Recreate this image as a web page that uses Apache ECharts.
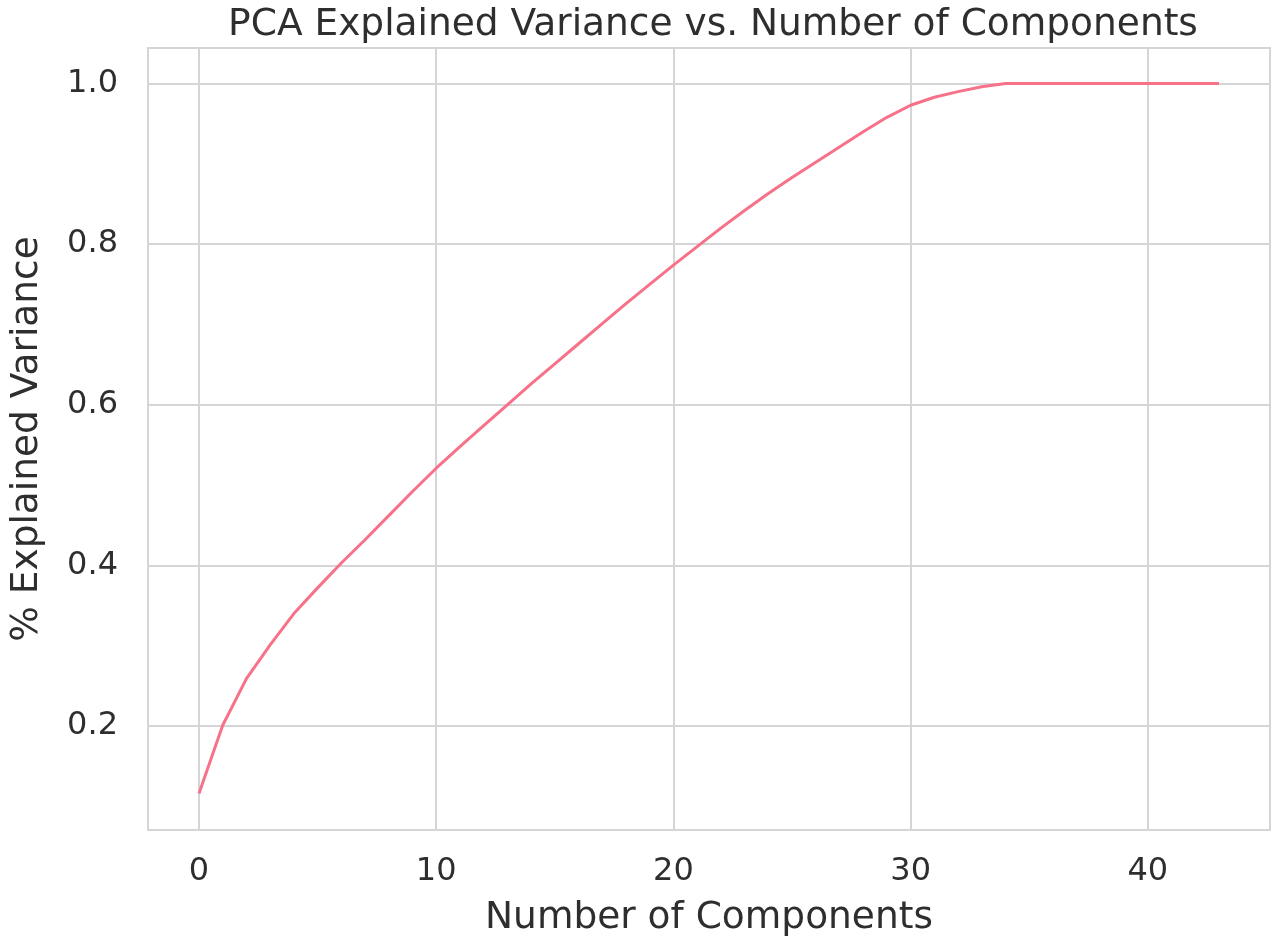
<!DOCTYPE html>
<html>
<head>
<meta charset="utf-8">
<script src="https://cdn.jsdelivr.net/npm/echarts@6/dist/echarts.min.js"></script>
<style>
html,body{margin:0;padding:0;background:#fff;}
#chart{width:1280px;height:950px;}
</style>
</head>
<body>
<div id="chart"></div>
<script>
const components = [0,1,2,3,4,5,6,7,8,9,10,11,12,13,14,15,16,17,18,19,20,21,22,23,24,25,26,27,28,29,30,31,32,33,34,35,36,37,38,39,40,41,42,43];
const explainedVariance = [0.116,0.201,0.259,0.301,0.340,0.372,0.403,0.432,0.462,0.492,0.521,0.548,0.574,0.600,0.626,0.651,0.676,0.701,0.726,0.750,0.774,0.797,0.820,0.842,0.863,0.883,0.902,0.921,0.940,0.958,0.973,0.983,0.990,0.996,1.000,1.000,1.000,1.000,1.000,1.000,1.000,1.000,1.000,1.000];
const xTicks = [0,10,20,30,40];
const yTicks = [0.2,0.4,0.6,0.8,1.0];

const chart = echarts.init(document.getElementById('chart'));
const font = 'DejaVu Sans';
const txt = '#2e2e2e';
const gridC = '#d5d5d5';
const seriesData = components.map((c,i)=>[c, explainedVariance[i]]);
const isTick = (arr, v) => arr.some(t => Math.abs(t - v) < 1e-6);

chart.setOption({
  backgroundColor: '#ffffff',
  animation: false,
  title: {
    text: 'PCA Explained Variance vs. Number of Components',
    left: 708, top: 1, textAlign: 'center',
    textStyle: {fontFamily: font, fontSize: 37.5, fontWeight: 'normal', color: txt}
  },
  grid: {left: 146, right: 10, top: 48, bottom: 120, show: true, borderColor: gridC, borderWidth: 2, backgroundColor: '#fff'},
  xAxis: {
    type: 'value', min: -2.15, max: 45.15, splitNumber: 5,
    name: 'Number of Components', nameLocation: 'middle', nameGap: 88,
    nameTextStyle: {fontFamily: font, fontSize: 37.5, color: txt, verticalAlign: 'middle'},
    axisLine: {show: false}, axisTick: {show: false},
    axisLabel: {fontFamily: font, fontSize: 32, color: txt, margin: 26,
      showMinLabel: false, showMaxLabel: false,
      formatter: v => isTick(xTicks, v) ? String(Math.round(v)) : ''},
    splitLine: {show: true, lineStyle: {color: gridC, width: 2}}
  },
  yAxis: {
    type: 'value', min: 0.0705, max: 1.0443, splitNumber: 5,
    name: '% Explained Variance', nameLocation: 'middle', nameGap: 121, nameRotate: 90,
    nameTextStyle: {fontFamily: font, fontSize: 37.5, color: txt, verticalAlign: 'middle'},
    axisLine: {show: false}, axisTick: {show: false},
    axisLabel: {fontFamily: font, fontSize: 32, color: txt, margin: 30,
      showMinLabel: false, showMaxLabel: false,
      formatter: v => isTick(yTicks, v) ? v.toFixed(1) : ''},
    splitLine: {show: true, lineStyle: {color: gridC, width: 2}}
  },
  series: [{
    type: 'line', data: seriesData, showSymbol: false, smooth: false,
    lineStyle: {color: '#f77189', width: 3}, itemStyle: {color: '#f77189'}
  }]
});
</script>
</body>
</html>
